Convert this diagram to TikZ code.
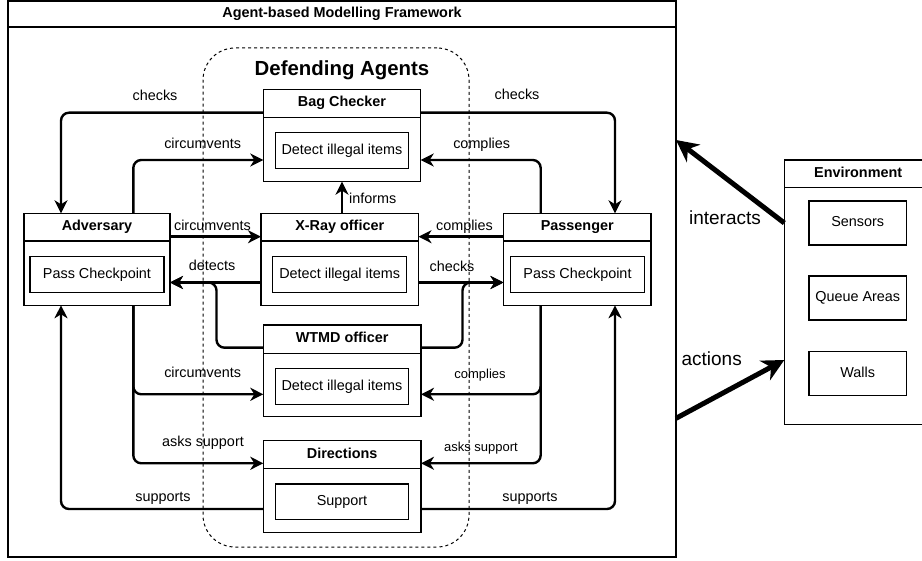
\documentclass[tikz,border=0pt]{standalone}
\usepackage{fontspec}
\setmainfont{Liberation Sans}
\usetikzlibrary{arrows.meta}
\newcommand\mkctr[7]{%
  \node[cbox, minimum width={(#4-#2)*1pt}, minimum height={(#5-#3)*1pt}, anchor=north west] (#1) at (#2,#3) {};
  \draw[thinline] (#2,#6) -- (#4,#6);
  \node[ttl] (#1T) at ({(#2+#4)/2},{(#3+#6)/2}) {#7};}
\newcommand\mkin[6]{%
  \node[ibox, minimum width={(#4-#2)*1pt}, minimum height={(#5-#3)*1pt}, anchor=north west] (#1) at (#2,#3) {#6};}
\begin{document}
\begin{tikzpicture}[x=1pt,y=-1pt,
  cbox/.style={draw, line width=1.2pt, inner sep=0pt, outer sep=0pt},
  ibox/.style={draw, line width=1.2pt, inner sep=0pt, outer sep=0pt, font=\fontsize{14.4}{17}\selectfont, text height=0.72em, text depth=0pt},
  thinline/.style={line width=1.2pt},
  ttl/.style={font=\fontsize{14.4}{17}\selectfont\bfseries, inner sep=0pt, text height=0.72em, text depth=0pt},
  lbl/.style={font=\fontsize{14.4}{17}\selectfont, inner sep=0pt, text height=0.72em, text depth=0pt},
  slbl/.style={font=\fontsize{13}{15}\selectfont, inner sep=0pt, text height=0.72em, text depth=0pt},
  arr/.style={line width=2.4pt, rounded corners=8pt, -{Stealth[length=13pt,width=13pt,inset=4pt]}},
  bigarr/.style={line width=5pt, -{Stealth[length=22pt,width=22pt,inset=7pt]}},
  biglbl/.style={font=\fontsize{19}{22}\selectfont, inner sep=0pt, text height=0.72em, text depth=0pt}
]
\useasboundingbox (0,0) rectangle (922,561);
% framework
\node[cbox, minimum width=668pt, minimum height=556pt, anchor=north west] (frame) at (8,1) {};
\draw[thinline] (8,27) -- (676,27);
\node[ttl] (frameT) at (342,14) {Agent-based Modelling Framework};
% defending agents group
\node[draw, dash pattern=on 3pt off 3pt, line width=1pt, rounded corners=32pt, minimum width=266pt, minimum height=499pt, anchor=north west, inner sep=0pt, outer sep=0pt] (def) at (203,48) {};
\node[font=\fontsize{20.4}{24}\selectfont\bfseries, inner sep=0pt, text height=0.72em, text depth=0pt] (defT) at (342,72) {Defending Agents};
% containers
\mkctr{bag}{263.3}{89.3}{420.7}{181.7}{117.3}{Bag Checker}
\mkin{bagI}{275.3}{132.7}{408.7}{168.3}{Detect illegal items}
\mkctr{xray}{261}{213.3}{418.5}{305.3}{241}{X-Ray officer}
\mkin{xrayI}{272.7}{256.7}{406.7}{292.3}{Detect illegal items}
\mkctr{wtmd}{263.3}{325}{421}{416.7}{353.3}{WTMD officer}
\mkin{wtmdI}{275.3}{368.7}{408.7}{404.3}{Detect illegal items}
\mkctr{dir}{263.3}{440.7}{421}{532.7}{468.3}{Directions}
\mkin{dirI}{275.3}{484}{408.7}{519.3}{Support}
\mkctr{adv}{24}{213.3}{170}{305.3}{241}{Adversary}
\mkin{advI}{30}{256.7}{164}{292.3}{Pass Checkpoint}
\mkctr{pas}{503.5}{213.3}{651}{305.3}{241}{Passenger}
\mkin{pasI}{510.7}{256.7}{644.3}{292.3}{Pass Checkpoint}
\mkctr{env}{784.3}{160}{932}{424.3}{187.5}{Environment}
\mkin{envS}{809}{201}{906.5}{245}{Sensors}
\mkin{envQ}{809}{276}{906.5}{320}{Queue Areas}
\mkin{envW}{809}{351.7}{906.5}{395.7}{Walls}
% bend coordinates
\coordinate (k1) at (61,112.7);
\coordinate (k2) at (615,112.7);
\coordinate (k3) at (133.3,160);
\coordinate (k4) at (540.7,160);
\coordinate (k6) at (0,236.7);
\coordinate (k8) at (0,282.5);
\coordinate (k10) at (216.5,347.7);
\coordinate (k11) at (462.5,347.7);
\coordinate (k12) at (133.3,394.3);
\coordinate (k13) at (133.3,463.3);
\coordinate (k14) at (540.7,394.3);
\coordinate (k15) at (540.7,463.3);
\coordinate (k16) at (61,509);
\coordinate (k17) at (615,509);
\coordinate (k18a) at (0,223);
\coordinate (k18b) at (0,140);
\coordinate (k19a) at (0,418.3);
\coordinate (k19b) at (0,360);
% connectors
\draw[arr] (bag.west |- k1) -- (k1) -- (k1 |- adv.north);
\node[lbl] (l1) at (155,96.7) {checks};
\draw[arr] (bag.east |- k2) -- (k2) -- (k2 |- pas.north);
\node[lbl] (l2) at (517,95.5) {checks};
\draw[arr] (k3 |- adv.north) -- (k3) -- (k3 -| bag.west);
\node[lbl] (l3) at (202.7,145) {circumvents};
\draw[arr] (k4 |- pas.north) -- (k4) -- (k4 -| bag.east);
\node[lbl] (l4) at (481.7,145) {complies};
\draw[arr] (bag.south |- xray.north) -- (bag.south);
\node[lbl, anchor=west] (l5) at (349,200) {informs};
\draw[arr] (adv.east |- k6) -- (xray.west |- k6);
\node[lbl] (l6) at (212.5,226.7) {circumvents};
\draw[arr] (pas.west |- k6) -- (xray.east |- k6);
\node[lbl] (l7) at (464.5,226.5) {complies};
\draw[arr] (xray.west |- k8) -- (adv.east |- k8);
\node[lbl] (l8) at (212,266.5) {detects};
\draw[arr] (xray.east |- k8) -- (pas.west |- k8);
\node[lbl] (l9) at (452,267.5) {checks};
\draw[arr] (wtmd.west |- k10) -- (k10) -- (k10 |- k8) -- (adv.east |- k8);
\draw[arr] (wtmd.east |- k11) -- (k11) -- (k11 |- k8) -- (pas.west |- k8);
\draw[arr] (k12 |- adv.south) -- (k12) -- (k12 -| wtmd.west);
\node[lbl] (l12) at (202.7,373.5) {circumvents};
\draw[arr] (k13 |- adv.south) -- (k13) -- (k13 -| dir.west);
\node[lbl] (l13) at (203,442.5) {asks support};
\draw[arr] (k14 |- pas.south) -- (k14) -- (k14 -| wtmd.east);
\node[slbl] (l14) at (480,375) {complies};
\draw[arr] (k15 |- pas.south) -- (k15) -- (k15 -| dir.east);
\node[slbl] (l15) at (481,447.5) {asks support};
\draw[arr] (dir.west |- k16) -- (k16) -- (k16 |- adv.south);
\node[lbl] (l16) at (163,497.5) {supports};
\draw[arr] (dir.east |- k17) -- (k17) -- (k17 |- pas.south);
\node[lbl] (l17) at (530,497.5) {supports};
\draw[bigarr] (env.west |- k18a) -- (frame.east |- k18b);
\node[biglbl] (l18) at (725,221) {interacts};
\draw[bigarr] (frame.east |- k19a) -- (env.west |- k19b);
\node[biglbl] (l19) at (711.7,361.5) {actions};
\end{tikzpicture}
\end{document}
